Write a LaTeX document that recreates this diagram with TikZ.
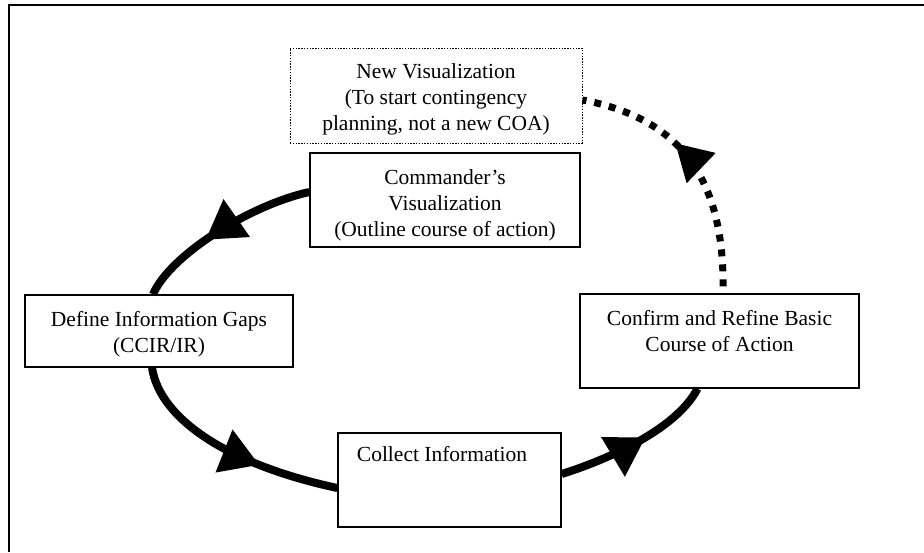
\documentclass[tikz,border=0pt]{standalone}
\usepackage{fontspec}
\setmainfont{Liberation Serif}
\usetikzlibrary{arrows.meta,decorations.markings}

\begin{document}
\begin{tikzpicture}[x=1pt,y=-1pt,
  box/.style={draw, line width=1.3pt, inner sep=0pt},
  ghostbox/.style={draw, line width=0.9pt, dash pattern=on 1.4pt off 1.4pt, inner sep=0pt},
  lbl/.style={align=center, inner sep=0pt, font=\fontsize{21.5}{26}\selectfont},
  flowarrow/.style={line width=8pt,
    decoration={markings, mark=at position #1 with {\arrow{Triangle[length=38pt,width=44pt]}}},
    postaction={decorate}},
  dotarrow/.style={line width=7pt, dash pattern=on 7pt off 8pt, dash phase=8pt,
    decoration={markings, mark=at position #1 with {\arrow{Triangle[length=36pt,width=40pt]}}},
    postaction={decorate}}
]
\useasboundingbox (0,0) rectangle (924,552);

% partial frame along the top and left edges
\coordinate (frameTR) at (924,5);
\coordinate (frameTL) at (9,5);
\coordinate (frameBL) at (9,552);
\draw[line width=1.8pt] (frameTR) -- (frameTL) -- (frameBL);

% boxes
\node[ghostbox, minimum width=292pt, minimum height=95pt] (newvis) at (436,95.5) {};
\node[box, minimum width=270pt, minimum height=94pt] (cmd) at (445,200) {};
\node[box, minimum width=268pt, minimum height=72pt] (def) at (159,331) {};
\node[box, minimum width=279pt, minimum height=94pt] (conf) at (719.5,341) {};
\node[box, minimum width=223pt, minimum height=94pt] (col) at (449.5,480) {};

% labels
\node[lbl] (newvisT) at (436,99) {New Visualization\\(To start contingency\\planning, not a new COA)};
\node[lbl] (cmdT) at (445,205) {Commander’s\\Visualization\\(Outline course of action)};
\node[lbl] (defT) at (159,334) {Define Information Gaps\\(CCIR/IR)};
\node[lbl] (confT) at (719.5,331) {Confirm and Refine Basic\\Course of Action};
\node[lbl] (colT) at (442,454) {Collect Information};

% cycle
\draw[flowarrow=0.6] ([yshift=8pt]cmd.west)
  .. controls (250,205) and (170,255) .. ([xshift=-6pt]def.north);
\draw[flowarrow=0.65] ([xshift=-7pt]def.south)
  .. controls (160,420) and (230,465) .. ([yshift=-8pt]col.west);
\draw[flowarrow=0.56] ([yshift=6pt]col.east)
  .. controls (600,462) and (675,432) .. ([xshift=-22pt]conf.south);

% contingency branch
\draw[dotarrow=0.61] ([xshift=3.5pt]conf.north)
  .. controls (725,190) and (690,120) .. ([yshift=-4.5pt]newvis.east);
\end{tikzpicture}
\end{document}
